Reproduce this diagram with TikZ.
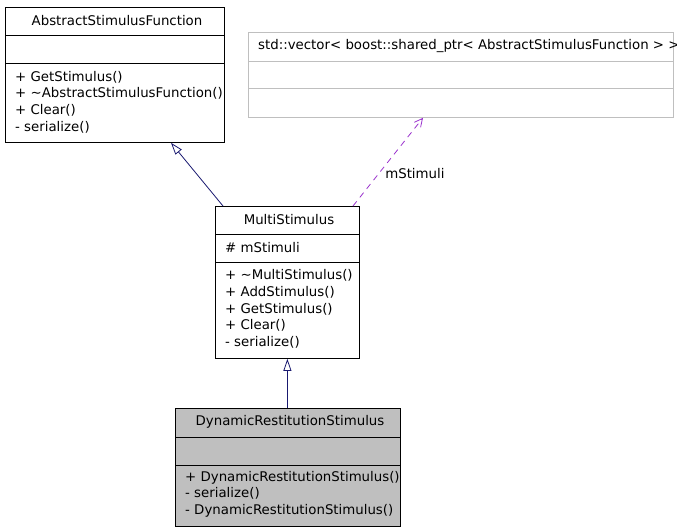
\documentclass[tikz,border=0pt]{standalone}
\usepackage{fontspec}
\setmainfont{DejaVu Sans}
\usepackage{xcolor}
\usepackage{tikz}
\usetikzlibrary{arrows.meta, positioning, calc}
\definecolor{edgeblue}{HTML}{191970}
\definecolor{edgepurple}{HTML}{9A32CD}
\definecolor{boxgray}{HTML}{BFBFBF}

\begin{document}
\begin{tikzpicture}[
    x=1pt, y=-1pt,
    font=\fontsize{13.33}{16.67}\selectfont,
    classbox/.style={draw=black, line width=0.8pt, inner sep=0, anchor=north west},
    title/.style={inner sep=0},
    member/.style={inner sep=0, anchor=west, align=left},
    inherit/.style={draw=edgeblue, line width=0.8pt, -{Triangle[open, length=12pt, width=8pt]}},
    uses/.style={draw=edgepurple, line width=0.8pt, dash pattern=on 6pt off 5pt, -{Straight Barb[length=8pt, width=8pt]}},
    edgelabel/.style={inner sep=0, anchor=west, font=\fontsize{13.33}{16.67}\selectfont}
]
    \useasboundingbox (0,0) rectangle (677,531);

    % AbstractStimulusFunction
    \node[classbox, minimum width=219pt, minimum height=135pt] (asf) at (5,7) {};
    \draw[line width=0.8pt] ($(asf.north west)+(0,28)$) -- ++(219,0);
    \draw[line width=0.8pt] ($(asf.north west)+(0,56)$) -- ++(219,0);
    \node[title] (asf-title) at (117,21) {AbstractStimulusFunction};
    \node[member] (asf-ops) at (15,102) {+ GetStimulus()\\+ \textasciitilde AbstractStimulusFunction()\\+ Clear()\\- serialize()};

    % std::vector
    \node[classbox, draw=boxgray, minimum width=425pt, minimum height=85pt] (vec) at (248,32) {};
    \draw[boxgray, line width=0.8pt] ($(vec.north west)+(0,29)$) -- ++(425,0);
    \draw[boxgray, line width=0.8pt] ($(vec.north west)+(0,56)$) -- ++(425,0);
    \node[title, anchor=west] (vec-title) at (258,46) {std::vector< boost::shared\_ptr< AbstractStimulusFunction > >};

    % MultiStimulus
    \node[classbox, minimum width=144pt, minimum height=152pt] (ms) at (215,206) {};
    \draw[line width=0.8pt] ($(ms.north west)+(0,28)$) -- ++(144,0);
    \draw[line width=0.8pt] ($(ms.north west)+(0,56)$) -- ++(144,0);
    \node[title] (ms-title) at (289,220) {MultiStimulus};
    \node[member] (ms-attr) at (225,248) {\# mStimuli};
    \node[member] (ms-ops) at (225,309) {+ \textasciitilde MultiStimulus()\\+ AddStimulus()\\+ GetStimulus()\\+ Clear()\\- serialize()};

    % DynamicRestitutionStimulus
    \node[classbox, fill=boxgray, minimum width=225pt, minimum height=118pt] (drs) at (175,408) {};
    \draw[line width=0.8pt] ($(drs.north west)+(0,29)$) -- ++(225,0);
    \draw[line width=0.8pt] ($(drs.north west)+(0,57)$) -- ++(225,0);
    \node[title] (drs-title) at (290,422) {DynamicRestitutionStimulus};
    \node[member] (drs-ops) at (185,494) {+ DynamicRestitutionStimulus()\\- serialize()\\- DynamicRestitutionStimulus()};

    % Connections
    \draw[inherit] ($(ms.north west)+(8,0)$) -- ($(asf.south west)+(166,0)$);
    \draw[inherit] (ms.south |- drs.north) -- (ms.south);
    \draw[uses] ($(ms.north west)+(138,0)$) -- node[edgelabel, pos=0.37, xshift=6pt] (ms-label) {mStimuli} ($(vec.south west)+(175,0)$);
\end{tikzpicture}
\end{document}
